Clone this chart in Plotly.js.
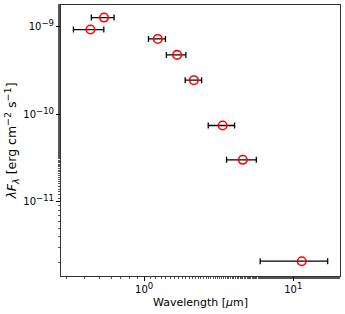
<!DOCTYPE html>
<html><head><meta charset="utf-8">
<script src="https://cdn.plot.ly/plotly-3.0.1.min.js"></script>
<style>html,body{margin:0;padding:0;background:#fff}</style>
</head><body><div id="chart" style="width:345px;height:314px"></div>
<script>
const wavelength = [0.437, 0.539, 1.236, 1.665, 2.156, 3.36, 4.59, 11.4];
const flux = [9.34e-10, 1.28e-9, 7.29e-10, 4.79e-10, 2.46e-10, 7.46e-11, 3.02e-11, 2.09e-12];
const waveLow = [0.336, 0.443, 1.07, 1.41, 1.885, 2.69, 3.57, 6.0];
const waveHigh = [0.537, 0.629, 1.39, 1.905, 2.43, 4.04, 5.65, 17.0];
const xTickVals = [1, 10];
const xTickExp = ['0', '1'];
const yTickVals = [1e-11, 1e-10, 1e-9];
const yTickExp = ['\u221211', '\u221210', '\u22129'];

const sup = (s, px) => '<sup><span style="font-size:' + px + 'px">' + s + '</span></sup>';
const xTickText = xTickExp.map(e => '10' + sup(e, 8.5));
const yTickText = yTickExp.map(e => '10' + sup(e, 8.5));

const errPlus = wavelength.map((w, i) => waveHigh[i] - w);
const errMinus = wavelength.map((w, i) => w - waveLow[i]);

const trace = {
  x: wavelength, y: flux, type: 'scatter', mode: 'markers',
  marker: {symbol: 'circle-open', size: 8.5, color: 'red', line: {width: 1.6, color: 'red'}},
  error_x: {type: 'data', symmetric: false, array: errPlus, arrayminus: errMinus,
            color: 'black', thickness: 1.3, width: 3},
  showlegend: false, hoverinfo: 'none'
};
const layout = {
  width: 345, height: 314,
  margin: {l: 61, r: 5, t: 5, b: 38},
  paper_bgcolor: '#fff', plot_bgcolor: '#fff',
  font: {family: 'DejaVu Sans', color: '#000'},
  xaxis: {type: 'log', range: [-0.557, 1.313], tickvals: xTickVals, ticktext: xTickText,
    ticks: 'outside', ticklen: 4, tickwidth: 1, tickcolor: '#000',
    minor: {ticks: 'outside', ticklen: 2, tickcolor: '#555', showgrid: false},
    showline: true, mirror: true, linecolor: '#333', linewidth: 1, showgrid: false, zeroline: false,
    tickfont: {family: 'DejaVu Sans', size: 10, color: '#000'},
    title: {text: 'Wavelength [<i>\u03bc</i>m]', font: {family: 'DejaVu Sans', size: 11, color: '#000'}, standoff: 4}},
  yaxis: {type: 'log', range: [-11.849, -8.749], tickvals: yTickVals, ticktext: yTickText,
    ticks: 'outside', ticklen: 4, tickwidth: 1, tickcolor: '#000',
    minor: {ticks: 'outside', ticklen: 2, tickcolor: '#555', showgrid: false},
    showline: true, mirror: true, linecolor: '#333', linewidth: 1, showgrid: false, zeroline: false,
    tickfont: {family: 'DejaVu Sans', size: 10, color: '#000'},
    title: {text: '<i>\u03bbF</i><sub><span style="font-size:9.5px"><i>\u03bb</i></span></sub> [erg cm' + sup('\u22122', 9.5) + ' s' + sup('\u22121', 9.5) + ']',
      font: {family: 'DejaVu Sans', size: 12.5, color: '#000'}, standoff: 3}}
};
Plotly.newPlot('chart', [trace], layout, {displayModeBar: false, staticPlot: true});
</script></body></html>
